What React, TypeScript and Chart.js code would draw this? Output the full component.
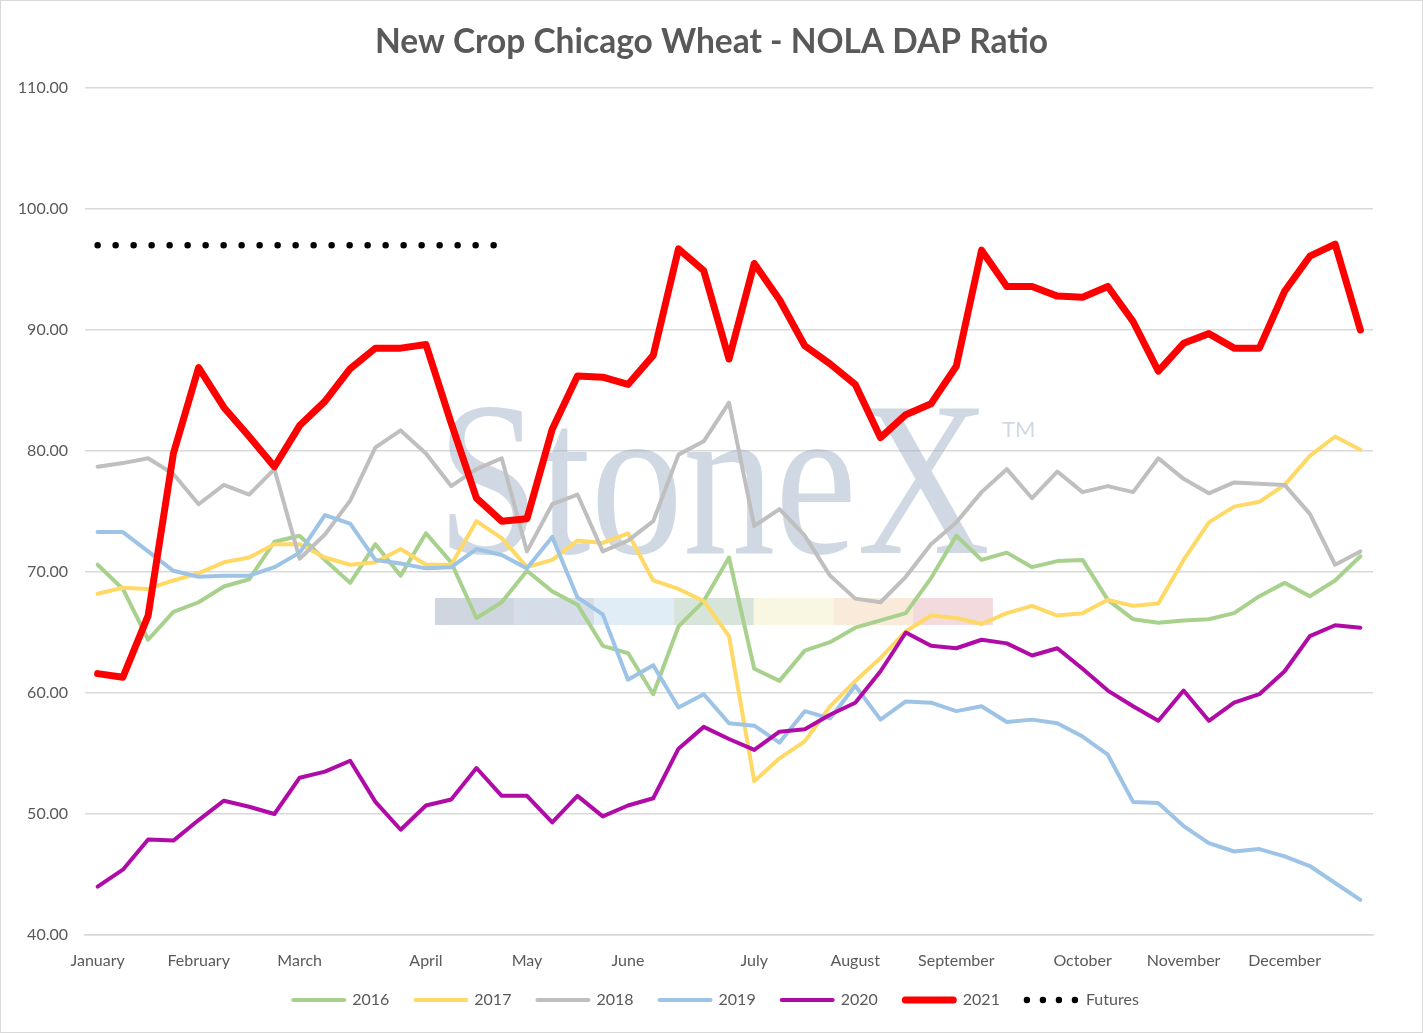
import React, { useEffect, useRef } from 'react';
import { Chart, registerables } from 'chart.js';

Chart.register(...registerables);

const TITLE = 'New Crop Chicago Wheat - NOLA DAP Ratio';
const FONT = 'Lato, "Open Sans", sans-serif';
const TEXT_COLOR = '#595959';
const GRID_COLOR = '#D9D9D9';

// weekly points, month name on the first week of each month
const MONTHS = ['January', 'February', 'March', 'April', 'May', 'June', 'July', 'August', 'September', 'October', 'November', 'December'];
const WEEKS_PER_MONTH = [4, 4, 5, 4, 4, 5, 4, 4, 5, 4, 4, 4];
const WEEK_LABELS = MONTHS.flatMap((m, i) => [m, ...new Array(WEEKS_PER_MONTH[i] - 1).fill('')]);

const Y_MIN = 40;
const Y_MAX = 110;
const Y_STEP = 10;

const SERIES_2016 = [70.6, 68.6, 64.4, 66.7, 67.5, 68.8, 69.4, 72.5, 73.0, 71.0, 69.1, 72.3, 69.7, 73.2, 70.8, 66.2, 67.5, 70.1, 68.4, 67.3, 63.9, 63.3, 59.9, 65.5, 67.6, 71.2, 62.0, 61.0, 63.5, 64.2, 65.4, 66.0, 66.6, 69.5, 73.0, 71.0, 71.6, 70.4, 70.9, 71.0, 67.7, 66.1, 65.8, 66.0, 66.1, 66.6, 68.0, 69.1, 68.0, 69.3, 71.3];
const SERIES_2017 = [68.2, 68.7, 68.6, 69.3, 69.9, 70.8, 71.2, 72.3, 72.3, 71.2, 70.6, 70.8, 71.9, 70.6, 70.6, 74.2, 72.8, 70.4, 71.0, 72.6, 72.4, 73.2, 69.3, 68.6, 67.6, 64.7, 52.7, 54.6, 56.0, 58.9, 61.0, 62.9, 65.1, 66.4, 66.2, 65.7, 66.6, 67.2, 66.4, 66.6, 67.7, 67.2, 67.4, 71.0, 74.1, 75.4, 75.8, 77.2, 79.6, 81.2, 80.1];
const SERIES_2018 = [78.7, 79.0, 79.4, 78.1, 75.6, 77.2, 76.4, 78.5, 71.1, 73.1, 75.9, 80.3, 81.7, 79.8, 77.1, 78.5, 79.4, 71.7, 75.6, 76.4, 71.7, 72.6, 74.2, 79.7, 80.8, 84.0, 73.8, 75.2, 73.0, 69.7, 67.8, 67.5, 69.6, 72.3, 74.1, 76.6, 78.5, 76.1, 78.3, 76.6, 77.1, 76.6, 79.4, 77.7, 76.5, 77.4, 77.3, 77.2, 74.8, 70.6, 71.7];
const SERIES_2019 = [73.3, 73.3, 71.7, 70.1, 69.6, 69.7, 69.7, 70.4, 71.6, 74.7, 74.0, 71.0, 70.7, 70.3, 70.4, 71.9, 71.4, 70.3, 72.9, 67.9, 66.5, 61.1, 62.3, 58.8, 59.9, 57.5, 57.3, 55.9, 58.5, 57.9, 60.6, 57.8, 59.3, 59.2, 58.5, 58.9, 57.6, 57.8, 57.5, 56.4, 54.9, 51.0, 50.9, 49.0, 47.6, 46.9, 47.1, 46.5, 45.7, 44.3, 42.9];
const SERIES_2020 = [44.0, 45.4, 47.9, 47.8, 49.5, 51.1, 50.6, 50.0, 53.0, 53.5, 54.4, 51.0, 48.7, 50.7, 51.2, 53.8, 51.5, 51.5, 49.3, 51.5, 49.8, 50.7, 51.3, 55.4, 57.2, 56.2, 55.3, 56.8, 57.0, 58.2, 59.2, 61.8, 65.0, 63.9, 63.7, 64.4, 64.1, 63.1, 63.7, 62.0, 60.2, 58.9, 57.7, 60.2, 57.7, 59.2, 59.9, 61.8, 64.7, 65.6, 65.4];
const SERIES_2021 = [61.6, 61.3, 66.4, 79.8, 86.9, 83.6, 81.2, 78.7, 82.1, 84.1, 86.8, 88.5, 88.5, 88.8, 82.3, 76.1, 74.2, 74.4, 81.8, 86.2, 86.1, 85.5, 87.9, 96.7, 94.9, 87.6, 95.5, 92.5, 88.7, 87.2, 85.5, 81.1, 83.0, 83.9, 87.0, 96.6, 93.6, 93.6, 92.8, 92.7, 93.6, 90.7, 86.6, 88.9, 89.7, 88.5, 88.5, 93.2, 96.1, 97.1, 90.0];
const FUTURES = [97, 97, 97, 97, 97, 97, 97, 97, 97, 97, 97, 97, 97, 97, 97, 97, 97];

const SERIES = [
  { label: '2016', data: SERIES_2016, color: '#A9D18E', width: 4 },
  { label: '2017', data: SERIES_2017, color: '#FFD966', width: 4 },
  { label: '2018', data: SERIES_2018, color: '#BFBFBF', width: 4 },
  { label: '2019', data: SERIES_2019, color: '#9DC3E6', width: 4 },
  { label: '2020', data: SERIES_2020, color: '#B00BA6', width: 4 },
  { label: '2021', data: SERIES_2021, color: '#FF0000', width: 7 },
];

const WATERMARK_BAR = ['#C8CFD9', '#CCD7E4', '#DCEAF4', '#CFDFD3', '#F8F6DC', '#F9E6D3', '#F1D3D6'];

// StoneX watermark behind the lines
const watermarkPlugin = {
  id: 'watermark',
  beforeDatasetsDraw(chart: Chart) {
    const ctx = chart.ctx;
    ctx.save();
    ctx.fillStyle = 'rgba(150,170,192,0.45)';
    ctx.font = '220px "Liberation Serif", "DejaVu Serif", serif';
    ctx.textBaseline = 'alphabetic';
    const w = ctx.measureText('StoneX').width;
    const sx = 553 / w;
    ctx.translate(437, 553);
    ctx.scale(sx, 1);
    ctx.fillText('StoneX', 0, 0);
    ctx.restore();

    ctx.save();
    ctx.fillStyle = 'rgba(150,170,192,0.45)';
    ctx.font = '22px ' + FONT;
    ctx.textBaseline = 'alphabetic';
    ctx.fillText('TM', 1002, 437);
    ctx.globalAlpha = 0.85;
    WATERMARK_BAR.forEach((c, i) => {
      ctx.fillStyle = c;
      ctx.fillRect(435 + i * 79.7, 598, 79.7, 27);
    });
    ctx.restore();
  },
};

// title, legend and outer border
const decorPlugin = {
  id: 'decor',
  afterDraw(chart: Chart) {
    const ctx = chart.ctx;
    const W = chart.width;
    ctx.save();
    ctx.strokeStyle = GRID_COLOR;
    ctx.lineWidth = 1;
    ctx.strokeRect(0.5, 0.5, W - 1, chart.height - 1);

    ctx.fillStyle = TEXT_COLOR;
    ctx.font = 'bold 33.5px ' + FONT;
    ctx.textAlign = 'center';
    ctx.textBaseline = 'alphabetic';
    ctx.fillText(TITLE, W / 2, 53);

    // legend
    ctx.font = '16px ' + FONT;
    ctx.textAlign = 'left';
    ctx.textBaseline = 'middle';
    const sample = 55;
    const gap = 6;
    const pad = 24;
    const items = [
      ...SERIES.map((s) => ({ label: s.label, color: s.color, width: s.width, dotted: false })),
      { label: 'Futures', color: '#000000', width: 6, dotted: true },
    ];
    const widths = items.map((it) => (it.dotted ? 62 : sample + gap) + ctx.measureText(it.label).width);
    const total = widths.reduce((a, b) => a + b, 0) + pad * (items.length - 1);
    let x = 715 - total / 2;
    const y = 1000;
    items.forEach((it, i) => {
      if (it.dotted) {
        ctx.fillStyle = it.color;
        for (let k = 0; k < 4; k++) {
          ctx.beginPath();
          ctx.arc(x + 3 + k * 16, y, 3.2, 0, Math.PI * 2);
          ctx.fill();
        }
        ctx.fillStyle = TEXT_COLOR;
        ctx.fillText(it.label, x + 62, y);
      } else {
        ctx.strokeStyle = it.color;
        ctx.lineWidth = it.width;
        ctx.lineCap = 'round';
        ctx.beginPath();
        ctx.moveTo(x + it.width / 2, y);
        ctx.lineTo(x + sample - it.width / 2, y);
        ctx.stroke();
        ctx.fillStyle = TEXT_COLOR;
        ctx.fillText(it.label, x + sample + gap, y);
      }
      x += widths[i] + pad;
    });
    ctx.restore();
  },
};

const App = () => {
  const canvasRef = useRef<HTMLCanvasElement>(null);

  useEffect(() => {
    if (!canvasRef.current) return;
    const datasets: any[] = SERIES.map((s, i) => ({
      label: s.label,
      data: s.data,
      borderColor: s.color,
      backgroundColor: s.color,
      borderWidth: s.width,
      borderJoinStyle: 'round',
      borderCapStyle: 'round',
      pointRadius: 0,
      tension: 0,
      order: SERIES.length - i,
    }));
    datasets.push({
      label: 'Futures',
      data: FUTURES,
      borderColor: '#000000',
      backgroundColor: '#000000',
      borderWidth: 6.5,
      borderDash: [0, 18],
      borderCapStyle: 'round',
      pointRadius: 0,
      order: 0,
    });

    const chart = new Chart(canvasRef.current, {
      type: 'line',
      data: { labels: WEEK_LABELS, datasets },
      options: {
        animation: false,
        responsive: true,
        maintainAspectRatio: false,
        layout: { padding: { top: 88, right: 50, bottom: 0, left: 0 } },
        plugins: {
          legend: { display: false },
          title: { display: false },
          tooltip: { enabled: false },
        },
        scales: {
          x: {
            type: 'category',
            offset: true,
            afterFit: (scale: any) => {
              scale.height = 98;
            },
            grid: { display: false, drawTicks: false },
            border: { display: true, color: GRID_COLOR, width: 1.5 },
            ticks: {
              autoSkip: false,
              maxRotation: 0,
              minRotation: 0,
              padding: 16,
              color: TEXT_COLOR,
              font: { family: FONT, size: 16 },
            },
          },
          y: {
            min: Y_MIN,
            max: Y_MAX,
            afterFit: (scale: any) => {
              scale.width = 85;
            },
            grid: { color: GRID_COLOR, lineWidth: 1.5, drawTicks: false },
            border: { display: false },
            ticks: {
              stepSize: Y_STEP,
              padding: 17,
              color: TEXT_COLOR,
              font: { family: FONT, size: 16 },
              callback: (v: any) => Number(v).toFixed(2),
            },
          },
        },
      },
      plugins: [watermarkPlugin, decorPlugin],
    });

    return () => {
      chart.destroy();
    };
  }, []);

  return (
    <div style={{ position: 'absolute', left: 0, top: 0, width: 1423, height: 1033, background: '#ffffff' }}>
      <canvas ref={canvasRef}></canvas>
    </div>
  );
};

export default App;
